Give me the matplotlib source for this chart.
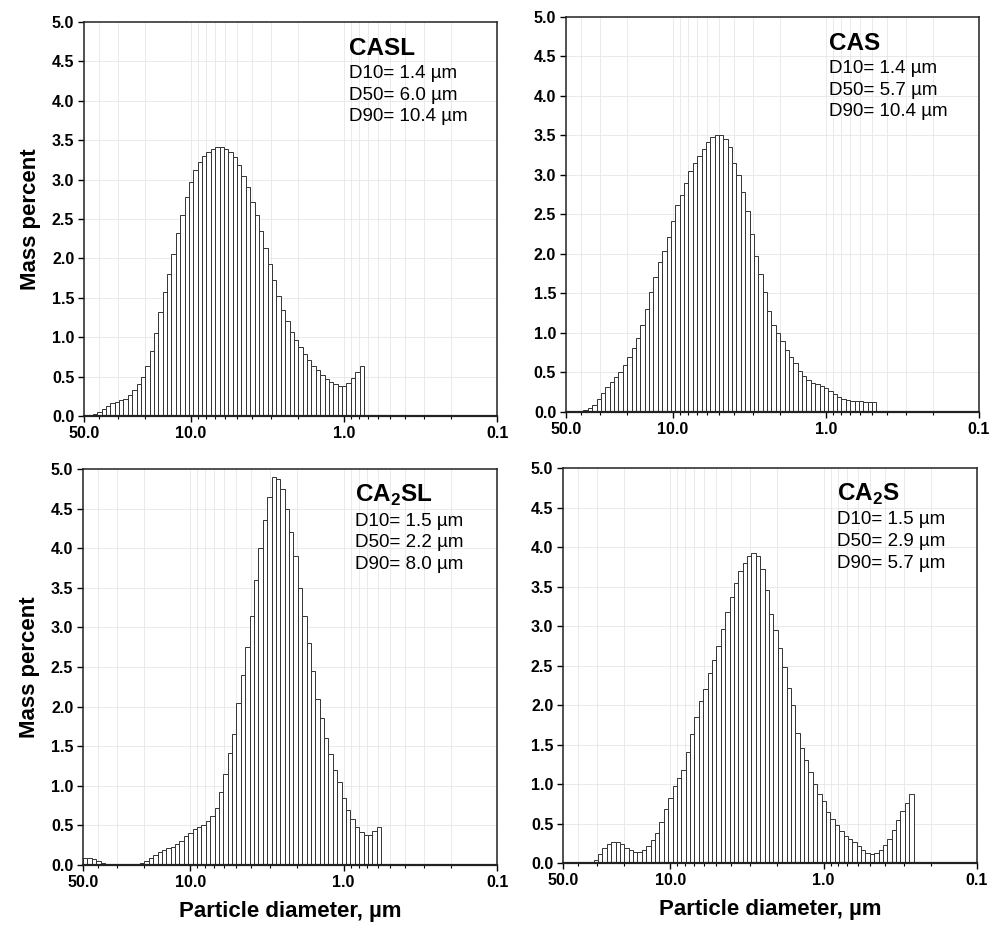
import numpy as np
import matplotlib
matplotlib.use("Agg")
import matplotlib.pyplot as plt
from matplotlib.ticker import FixedLocator, NullFormatter

plt.rcParams['font.family'] = ['Liberation Sans', 'DejaVu Sans']
plt.rcParams['mathtext.fontset'] = 'custom'
plt.rcParams['mathtext.rm'] = 'Liberation Sans'
plt.rcParams['mathtext.bf'] = 'Liberation Sans:bold'

#size classes of the sedigraph (35 classes per decade, starting at 50 um)
bins_per_decade = 35
n_edges = 95
edges = 50.0 * 10 ** (-np.arange(n_edges) / bins_per_decade)

#sample names and characteristic diameters
names = ['CASL', 'CAS', r'CA$_\mathbf{2}$SL', r'CA$_\mathbf{2}$S']
d10 = ['1.4', '1.4', '1.5', '1.5']
d50 = ['6.0', '5.7', '2.2', '2.9']
d90 = ['10.4', '10.4', '8.0', '5.7']

#index of the first size class of each sample
first_bin = [2, 3, 0, 7]

#mass percent per size class
casl = [0.02, 0.05, 0.09, 0.13, 0.16, 0.18, 0.20, 0.22, 0.27, 0.33,
        0.40, 0.50, 0.63, 0.82, 1.05, 1.32, 1.57, 1.80, 2.05, 2.32,
        2.55, 2.78, 2.97, 3.12, 3.22, 3.30, 3.35, 3.39, 3.41, 3.41,
        3.39, 3.35, 3.28, 3.18, 3.05, 2.90, 2.72, 2.55, 2.35, 2.13,
        1.93, 1.72, 1.52, 1.35, 1.20, 1.07, 0.96, 0.87, 0.78, 0.71,
        0.64, 0.58, 0.52, 0.47, 0.43, 0.40, 0.38, 0.38, 0.42, 0.48,
        0.56, 0.64]
cas = [0.01, 0.02, 0.05, 0.09, 0.16, 0.24, 0.31, 0.38, 0.44, 0.51,
       0.60, 0.69, 0.81, 0.94, 1.10, 1.30, 1.52, 1.71, 1.90, 2.04,
       2.22, 2.42, 2.62, 2.75, 2.90, 3.05, 3.15, 3.24, 3.33, 3.42,
       3.48, 3.50, 3.50, 3.45, 3.36, 3.15, 3.00, 2.78, 2.55, 2.25,
       1.98, 1.75, 1.52, 1.28, 1.10, 1.00, 0.90, 0.78, 0.70, 0.62,
       0.52, 0.45, 0.40, 0.37, 0.35, 0.33, 0.30, 0.27, 0.23, 0.19,
       0.16, 0.15, 0.14, 0.14, 0.14, 0.13, 0.13, 0.12]
ca2sl = [0.09, 0.09, 0.08, 0.05, 0.02, 0.0, 0.0, 0.0, 0.0, 0.0,
         0.0, 0.0, 0.0, 0.02, 0.05, 0.09, 0.13, 0.16, 0.19, 0.21,
         0.23, 0.26, 0.30, 0.36, 0.40, 0.45, 0.48, 0.51, 0.55, 0.62,
         0.72, 0.92, 1.15, 1.42, 1.65, 2.05, 2.40, 2.75, 3.15, 3.60,
         4.00, 4.35, 4.65, 4.90, 4.88, 4.75, 4.50, 4.20, 3.90, 3.50,
         3.15, 2.80, 2.45, 2.10, 1.85, 1.60, 1.40, 1.20, 1.05, 0.85,
         0.70, 0.58, 0.48, 0.42, 0.38, 0.38, 0.43, 0.48]
ca2s = [0.04, 0.12, 0.19, 0.24, 0.27, 0.27, 0.24, 0.19, 0.16, 0.14,
        0.14, 0.16, 0.21, 0.29, 0.38, 0.52, 0.68, 0.82, 0.97, 1.08,
        1.18, 1.40, 1.63, 1.85, 2.05, 2.20, 2.40, 2.57, 2.75, 2.96,
        3.18, 3.37, 3.55, 3.70, 3.80, 3.88, 3.92, 3.88, 3.72, 3.46,
        3.15, 2.95, 2.72, 2.48, 2.22, 2.00, 1.65, 1.45, 1.30, 1.15,
        1.00, 0.88, 0.78, 0.65, 0.56, 0.48, 0.40, 0.34, 0.30, 0.26,
        0.22, 0.17, 0.13, 0.12, 0.13, 0.17, 0.23, 0.30, 0.42, 0.55,
        0.66, 0.76, 0.87]
series = [casl, cas, ca2sl, ca2s]

#axes boxes in figure fractions
boxes = [[0.0848, 0.5508, 0.4168, 0.4255],
         [0.5711, 0.5551, 0.4168, 0.4266],
         [0.0838, 0.0659, 0.4178, 0.4276],
         [0.5681, 0.0680, 0.4178, 0.4266]]
text_x = [0.642, 0.637, 0.657, 0.662]

fig = plt.figure(figsize=(9.91, 9.26), dpi=100)

minor_pos = [m * 10.0 ** e for e in (-1, 0, 1) for m in range(2, 10)]
minor_pos = [v for v in minor_pos if 0.1 < v < 50]

for k in range(4):
    ax = fig.add_axes(boxes[k])
    vals = np.array(series[k])
    i0 = first_bin[k]
    lo = edges[i0:i0 + len(vals)]
    hi = edges[i0 + 1:i0 + 1 + len(vals)]
    ax.bar(lo, vals, width=hi - lo, align='edge', color='white',
           edgecolor='#333333', linewidth=0.7, zorder=2)
    ax.set_xscale('log')
    ax.set_xlim(50, 0.1)
    ax.set_ylim(0, 5.0)
    #grid
    for v in minor_pos + [10, 1]:
        ax.axvline(v, color='#e6e6e6', linewidth=0.6, zorder=0)
    for y in np.arange(0.5, 5.0, 0.5):
        ax.axhline(y, color='#e6e6e6', linewidth=0.6, zorder=0)
    #ticks
    ax.xaxis.set_major_locator(FixedLocator([50, 10, 1, 0.1]))
    ax.set_xticklabels(['50.0', '10.0', '1.0', '0.1'])
    ax.xaxis.set_minor_locator(FixedLocator(minor_pos))
    ax.xaxis.set_minor_formatter(NullFormatter())
    ax.set_yticks(np.arange(0, 5.01, 0.5))
    ax.set_yticklabels(['%.1f' % v for v in np.arange(0, 5.01, 0.5)])
    ax.tick_params(axis='both', which='major', labelsize=11.5, length=4,
                   width=1.0, direction='out', pad=3)
    ax.tick_params(axis='x', which='minor', length=2.5, width=0.8,
                   direction='out')
    for lab in ax.get_xticklabels() + ax.get_yticklabels():
        lab.set_fontweight('bold')
    for s in ax.spines.values():
        s.set_linewidth(1.1)
        s.set_color('#222222')
    ax.spines['bottom'].set_linewidth(1.6)
    #labels
    if k in (0, 2):
        ax.set_ylabel('Mass percent', fontsize=16, fontweight='bold',
                      labelpad=8)
    if k in (2, 3):
        ax.set_xlabel('Particle diameter, µm', fontsize=16,
                      fontweight='bold', labelpad=8)
    #annotation
    tx = text_x[k]
    ax.text(tx, 0.916, names[k], transform=ax.transAxes, fontsize=17.5,
            fontweight='bold', va='baseline', ha='left')
    ax.text(tx, 0.857, 'D10= %s µm' % d10[k], transform=ax.transAxes,
            fontsize=13.5, va='baseline', ha='left')
    ax.text(tx, 0.803, 'D50= %s µm' % d50[k], transform=ax.transAxes,
            fontsize=13.5, va='baseline', ha='left')
    ax.text(tx, 0.748, 'D90= %s µm' % d90[k], transform=ax.transAxes,
            fontsize=13.5, va='baseline', ha='left')

fig.savefig('out.png', dpi=100)
